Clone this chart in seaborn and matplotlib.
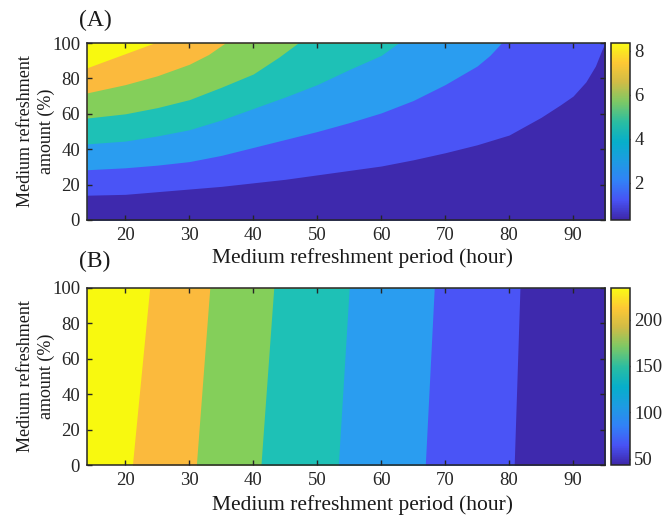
import numpy as np
import matplotlib
matplotlib.use("Agg")
import matplotlib.pyplot as plt
import seaborn as sns
from matplotlib.colors import LinearSegmentedColormap, Normalize
from matplotlib.cm import ScalarMappable

sns.set_style("ticks")
plt.rcParams['font.family'] = ['Liberation Serif', 'DejaVu Serif']

# --- data ---
x_lim = (14, 95)
band_colors = ['#3e29ad', '#4a54f6', '#2a9df0', '#1ec1b6', '#84cf5a', '#fbba3d', '#f8f90f']

# (A) contour boundaries: amount (%) vs period (hour), from lowest band upwards
a_x1 = [14, 20, 25, 30, 35, 40, 45, 50, 55, 60, 65, 70, 75, 80, 85, 88, 90, 92, 93.5, 94.5, 95]
a_y1 = [14, 14.5, 16, 17.5, 19, 21, 23, 25.5, 28, 30.5, 34, 38, 42.5, 48, 58, 65, 70, 78, 87, 96, 100]
a_x2 = [14, 20, 25, 30, 35, 40, 45, 50, 55, 60, 65, 70, 75, 77, 78.8]
a_y2 = [28.4, 29.5, 31, 33, 36.5, 41, 45.5, 50, 55, 60.5, 67.5, 76.5, 87, 93, 100]
a_x3 = [14, 20, 25, 30, 35, 40, 45, 50, 55, 60, 62.7]
a_y3 = [43, 44.6, 47.5, 51, 56.5, 63, 69.5, 76.5, 85, 93, 100]
a_x4 = [14, 20, 25, 30, 35, 40, 44, 47]
a_y4 = [57.6, 60, 63.5, 68, 75, 82.5, 92, 100]
a_x5 = [14, 20, 25, 30, 33, 35.6]
a_y5 = [71.8, 76.5, 81.5, 88, 93.5, 100]
a_x6 = [14, 20, 24.5]
a_y6 = [86, 94, 100]
a_range = (0.32, 8.35)
a_ticks = [2, 4, 6, 8]

# (B) boundaries: period (hour) at amount 0 % and 100 %, from left to right
b_bottom = [21.1, 31.1, 41.2, 53.3, 66.9, 80.8]
b_top = [23.8, 33.2, 43.2, 55.0, 68.3, 81.7]
b_range = (43, 234)
b_ticks = [50, 100, 150, 200]

parula = LinearSegmentedColormap.from_list('parula', [
    (0.00, (0.2422, 0.1504, 0.6603)),
    (0.11, (0.2810, 0.3228, 0.9579)),
    (0.22, (0.1953, 0.5070, 0.9702)),
    (0.33, (0.1160, 0.6086, 0.8878)),
    (0.44, (0.0265, 0.6837, 0.7929)),
    (0.55, (0.1582, 0.7402, 0.6406)),
    (0.67, (0.4961, 0.7858, 0.3936)),
    (0.78, (0.8184, 0.7350, 0.2722)),
    (0.89, (0.9937, 0.7855, 0.2058)),
    (1.00, (0.9769, 0.9839, 0.0805)),
])

fig = plt.figure(figsize=(6.66, 5.17), dpi=100)
W, H = 666, 517

def box(l, t, r, b):
    return [l / W, 1 - b / H, (r - l) / W, (b - t) / H]

ax_a = fig.add_axes(box(87, 43, 605, 220))
cax_a = fig.add_axes(box(611, 43, 630, 220))
ax_b = fig.add_axes(box(87, 288, 605, 465))
cax_b = fig.add_axes(box(611, 288, 630, 465))

# panel A: layered fills, each filling the area under one boundary
ax_a.fill_between(x_lim, 0, 100, color=band_colors[6], lw=0)
a_bounds = [(a_x6, a_y6), (a_x5, a_y5), (a_x4, a_y4), (a_x3, a_y3), (a_x2, a_y2), (a_x1, a_y1)]
for k, (bx, by) in enumerate(a_bounds):
    xs = list(bx) + [x_lim[1]]
    ys = list(by) + [100]
    ax_a.fill_between(xs, 0, ys, color=band_colors[5 - k], lw=0)

# panel B: layered fills, each filling the area right of one boundary
ax_b.fill_between(x_lim, 0, 100, color=band_colors[6], lw=0)
for k, (x0, x1) in enumerate(zip(b_bottom, b_top)):
    ax_b.fill_betweenx([0, 100], [x0, x1], [x_lim[1], x_lim[1]], color=band_colors[5 - k], lw=0)

for ax in (ax_a, ax_b):
    ax.set_xlim(*x_lim)
    ax.set_ylim(0, 100)
    ax.set_xticks(range(20, 95, 10))
    ax.set_yticks(range(0, 101, 20))
    ax.tick_params(direction='in', top=True, right=True, length=3.5, width=1,
                   labelsize=13.5, colors='#262626', pad=5)
    for s in ax.spines.values():
        s.set_linewidth(1.1)
        s.set_color('#262626')
    ax.set_axisbelow(False)

for cax, rng, ticks in ((cax_a, a_range, a_ticks), (cax_b, b_range, b_ticks)):
    sm = ScalarMappable(norm=Normalize(*rng), cmap=parula)
    cb = fig.colorbar(sm, cax=cax)
    cb.set_ticks(ticks)
    cb.outline.set_linewidth(1.1)
    cb.outline.set_edgecolor('#262626')
    cax.tick_params(direction='in', length=3, width=1, labelsize=13.5, colors='#262626', pad=3)

label_kw = dict(fontsize=15.5, color='#1a1a1a', ha='center', va='center')
fig.text(362 / W, 1 - 258 / H, 'Medium refreshment period (hour)', **label_kw)
fig.text(362 / W, 1 - 505 / H, 'Medium refreshment period (hour)', **label_kw)
for yc in (131.5, 376.5):
    fig.text(36 / W, 1 - yc / H, 'Medium refreshment\namount (%)', rotation=90,
             fontsize=13, color='#1a1a1a', ha='center', va='center',
             multialignment='center', linespacing=1.35)
fig.text(95 / W, 1 - 20 / H, '(A)', fontsize=17, color='#1a1a1a', ha='center', va='center')
fig.text(95 / W, 1 - 261 / H, '(B)', fontsize=17, color='#1a1a1a', ha='center', va='center')

fig.savefig('out.png', dpi=100)
